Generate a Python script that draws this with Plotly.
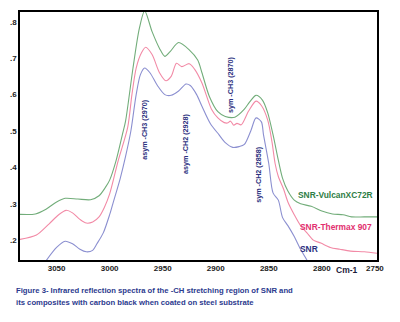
import plotly.graph_objects as go

# Wavenumber (cm-1) and reflectance readings for each coating
vulcan_wn = [3085, 3070, 3060, 3050, 3042, 3030, 3018, 3010, 3004, 3000, 2994, 2988,
             2985, 2978, 2972, 2967, 2960, 2953, 2948, 2943, 2935, 2925, 2917, 2913,
             2906, 2898, 2891, 2882, 2873, 2868, 2862, 2856, 2851, 2846, 2841, 2837,
             2832, 2826, 2820, 2810, 2800, 2790, 2780, 2772, 2760, 2748]
vulcan_abs = [0.271, 0.272, 0.285, 0.305, 0.315, 0.313, 0.311, 0.322, 0.345, 0.365, 0.418, 0.49,
              0.527, 0.673, 0.782, 0.83, 0.773, 0.727, 0.705, 0.718, 0.743, 0.723, 0.695, 0.66,
              0.595, 0.553, 0.54, 0.538, 0.56, 0.58, 0.598, 0.585, 0.55, 0.49, 0.42, 0.37,
              0.335, 0.31, 0.30, 0.293, 0.28, 0.272, 0.27, 0.264, 0.264, 0.264]

thermax_wn = [3085, 3069, 3057, 3048, 3041, 3035, 3028, 3022, 3016, 3010, 3005, 3000,
              2992, 2983, 2979, 2975, 2970, 2966, 2960, 2953, 2947, 2942, 2937, 2932,
              2925, 2920, 2913, 2904, 2898, 2892, 2889, 2886, 2883, 2880, 2876, 2869,
              2862, 2857, 2851, 2847, 2844, 2841, 2836, 2832, 2826, 2820, 2814, 2808,
              2801, 2792, 2783, 2773, 2760, 2748]
thermax_abs = [0.202, 0.214, 0.245, 0.27, 0.282, 0.275, 0.257, 0.247, 0.25, 0.264, 0.29, 0.327,
               0.418, 0.51, 0.60, 0.673, 0.715, 0.73, 0.71, 0.66, 0.638, 0.65, 0.686, 0.677,
               0.685, 0.67, 0.632, 0.56, 0.536, 0.523, 0.522, 0.527, 0.516, 0.521, 0.517, 0.555,
               0.582, 0.57, 0.53, 0.47, 0.41, 0.375, 0.34, 0.305, 0.27, 0.24, 0.22, 0.20,
               0.192, 0.18, 0.175, 0.17, 0.168, 0.164]

snr_wn = [3062, 3050, 3042, 3035, 3028, 3022, 3016, 3012, 3006, 3000, 2997, 2990,
          2985, 2980, 2975, 2971, 2967, 2962, 2955, 2948, 2942, 2935, 2928, 2924,
          2918, 2913, 2905, 2897, 2891, 2884, 2878, 2873, 2867, 2862, 2857, 2855,
          2850, 2846, 2841, 2837, 2832, 2826, 2820, 2814, 2810]
snr_abs = [0.135, 0.18, 0.197, 0.19, 0.175, 0.168, 0.172, 0.19, 0.22, 0.27, 0.30, 0.37,
           0.43, 0.50, 0.60, 0.655, 0.673, 0.66, 0.625, 0.60, 0.598, 0.61, 0.629, 0.625,
           0.60, 0.568, 0.52, 0.49, 0.468, 0.455, 0.457, 0.463, 0.50, 0.536, 0.525, 0.49,
           0.41, 0.33, 0.31, 0.262, 0.24, 0.21, 0.175, 0.145, 0.125]

y_ticks = [0.2, 0.3, 0.4, 0.5, 0.6, 0.7, 0.8]
y_tick_text = [".2", ".3", ".4", ".5", ".6", ".7", ".8"]
x_ticks = [3050, 3000, 2950, 2900, 2850, 2800, 2750]

# Band assignments: (text, wavenumber, label centre height)
bands = [
    ("asym -CH3 (2970)", 2967, 0.505),
    ("asym -CH2 (2928)", 2929, 0.467),
    ("sym -CH3 (2870)", 2886, 0.628),
    ("sym -CH2 (2858)", 2860, 0.38),
]

NAVY = "#2b2f7e"
series = [
    ("SNR-VulcanXC72R", vulcan_wn, vulcan_abs, "#72ad7a", "#2e7d45", 2787, 0.3255),
    ("SNR-Thermax 907", thermax_wn, thermax_abs, "#f28aa6", "#e2306f", 2787, 0.2355),
    ("SNR", snr_wn, snr_abs, "#8b8fd0", NAVY, 2812, 0.1755),
]

fig = go.Figure()
for name, xs, ys, line_col, text_col, lx, ly in series:
    fig.add_trace(go.Scatter(x=xs, y=ys, mode="lines", name=name,
                             line=dict(color=line_col, width=1.1, shape="spline", smoothing=0.8),
                             showlegend=False))
    fig.add_annotation(x=lx, y=ly, xref="x", yref="y", text=f"<b>{name}</b>",
                       showarrow=False, font=dict(size=8.4, color=text_col))

for text, wn, yc in bands:
    fig.add_annotation(x=wn, y=yc, xref="x", yref="y", text=f"<b>{text}</b>",
                       textangle=-90, showarrow=False,
                       font=dict(size=7.2, color=NAVY))

fig.add_annotation(x=2776, y=-0.07, xref="x", yref="paper", text="<b>Cm-1</b>",
                   showarrow=False, font=dict(size=8.5, color="#1a1a3a"))

caption = ["Figure 3- Infrared reflection spectra of the -CH stretching region of SNR and",
           "its composites with carbon black when coated on steel substrate"]
for i, line in enumerate(caption):
    fig.add_annotation(x=-0.016, y=-0.122 - i * 0.048, xref="paper", yref="paper",
                       text=f"<b>{line}</b>", showarrow=False, xanchor="left", yanchor="middle",
                       font=dict(size=7.7, color="#2b3a8e"))

fig.update_layout(
    width=400, height=322,
    margin=dict(l=16, r=23, t=10, b=62),
    paper_bgcolor="white", plot_bgcolor="white",
    font=dict(family="Liberation Sans, Arial, sans-serif", color="#222"),
)
fig.update_xaxes(range=[3084.5, 2748], tickvals=x_ticks,
                 ticktext=[f"<b>{v}</b>" for v in x_ticks],
                 showgrid=False, zeroline=False, showline=True, linecolor="black",
                 linewidth=1.5, mirror=True, ticks="", tickfont=dict(size=8, color="#222"))
fig.update_yaxes(range=[0.1455, 0.827], tickvals=y_ticks,
                 ticktext=[f"<b>{t}</b>" for t in y_tick_text],
                 showgrid=False, zeroline=False, showline=True, linecolor="black",
                 linewidth=1.5, mirror=True, ticks="", tickfont=dict(size=8, color="#222"))

fig.write_html("out.html")
